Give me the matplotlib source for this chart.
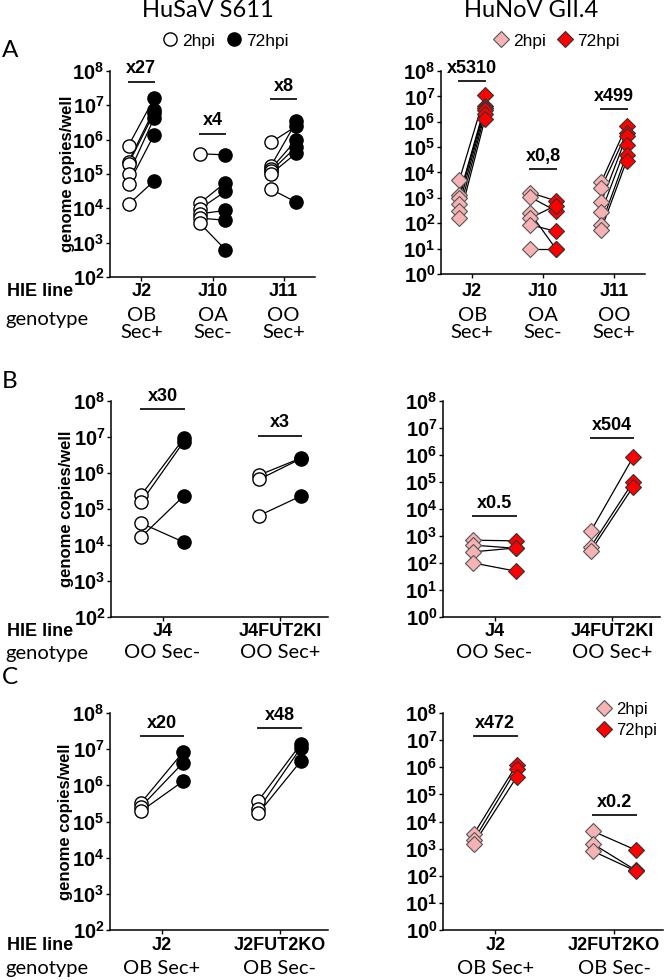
import math
import matplotlib
matplotlib.use('Agg')
import matplotlib.pyplot as plt
from matplotlib.ticker import FixedLocator, FuncFormatter, NullLocator
from matplotlib.lines import Line2D

plt.rcParams['font.family'] = 'Liberation Sans'
plt.rcParams['mathtext.fontset'] = 'custom'
plt.rcParams['mathtext.bf'] = 'Liberation Sans:bold'
plt.rcParams['mathtext.rm'] = 'Liberation Sans'

# Estilos
PINK = '#F7B3B3'
RED = '#FF0000'
SOFT_FONT = 'Lato'
DX = 0.18

# --- datos (copias genómicas / pocillo) ---
# Panel A
A_cats = ['J2', 'J10', 'J11']
A_geno = ['OB\nSec+', 'OA\nSec-', 'OO\nSec+']
A_sav_2hpi = [[6.7e5, 2.3e5, 2.0e5, 1.0e5, 5.1e4, 1.3e4],
              [3.9e5, 1.4e4, 9.6e3, 6.9e3, 5.2e3, 3.7e3],
              [8.3e5, 1.7e5, 1.4e5, 1.2e5, 1.0e5, 3.6e4]]
A_sav_72hpi = [[1.6e7, 7.4e6, 6.0e6, 4.2e6, 1.4e6, 6.3e4],
               [3.6e5, 5.6e4, 3.1e4, 8.7e3, 4.5e3, 6.3e2],
               [2.5e6, 3.4e6, 1.0e6, 6.3e5, 4.1e5, 1.5e4]]
A_sav_fold = ['x27', 'x4', 'x8']
A_sav_bar = [4.9e7, 1.5e6, 1.5e7]
A_nov_2hpi = [[5.1e3, 1.3e3, 1.0e3, 5.9e2, 3.1e2, 1.6e2],
              [1.6e3, 1.07e3, 2.5e2, 1.6e2, 8.7e1, 1.0e1],
              [4.1e3, 2.4e3, 6.6e2, 2.7e2, 8.7e1, 5.5e1]]
A_nov_72hpi = [[1.15e7, 4.2e6, 3.5e6, 2.8e6, 2.0e6, 1.27e6],
               [7.7e2, 3.1e2, 1.0e1, 5.0e2, 4.8e1, 1.0e1],
               [6.9e5, 3.6e5, 2.7e5, 1.2e5, 5.0e4, 2.9e4]]
A_nov_fold = ['x5310', 'x0,8', 'x499']
A_nov_bar = [4.0e7, 1.4e4, 3.1e6]

# Panel B
B_cats = ['J4', 'J4FUT2KI']
B_geno = ['OO Sec-', 'OO Sec+']
B_sav_2hpi = [[2.5e5, 1.6e5, 4.0e4, 1.7e4], [8.7e5, 6.6e5, 6.5e4]]
B_sav_72hpi = [[9.1e6, 7.4e6, 1.2e4, 2.3e5], [2.6e6, 2.5e6, 2.3e5]]
B_sav_fold = ['x30', 'x3']
B_sav_bar = [5.9e7, 1.1e7]
B_nov_2hpi = [[7.0e2, 4.6e2, 2.6e2, 1.0e2], [1.5e3, 4.0e2, 2.8e2]]
B_nov_72hpi = [[6.6e2, 3.5e2, 3.6e2, 5.0e1], [8.2e5, 1.0e5, 6.6e4]]
B_nov_fold = ['x0.5', 'x504']
B_nov_bar = [5.5e3, 4.1e6]

# Panel C
C_cats = ['J2', 'J2FUT2KO']
C_geno = ['OB Sec+', 'OB Sec-']
C_sav_2hpi = [[3.2e5, 2.5e5, 1.9e5], [3.8e5, 2.2e5, 1.7e5]]
C_sav_72hpi = [[8.3e6, 4.2e6, 1.3e6], [1.4e7, 1.1e7, 4.7e6]]
C_sav_fold = ['x20', 'x48']
C_sav_bar = [2.3e7, 3.9e7]
C_nov_2hpi = [[3.5e3, 2.1e3, 1.5e3], [4.4e3, 1.5e3, 8.1e2]]
C_nov_72hpi = [[1.26e6, 8.7e5, 4.4e5], [8.9e2, 1.6e2, 1.5e2]]
C_nov_fold = ['x472', 'x0.2']
C_nov_bar = [1.4e7, 1.7e4]

W, H = 666, 980
fig = plt.figure(figsize=(W / 100, H / 100), dpi=100)


def add_axes_px(x0, x1, ytop, ybot):
    return fig.add_axes([x0 / W, 1 - ybot / H, (x1 - x0) / W, (ybot - ytop) / H])


def pow_fmt(v, pos):
    return r'$\mathbf{10^{%d}}$' % int(round(math.log10(v)))


def draw_panel(ax, cats, geno, pre, post, folds, bars, virus, ymin_exp,
               geno_off, hie_off=15, left=False):
    n = len(cats)
    for i in range(n):
        for a, b in zip(pre[i], post[i]):
            ax.plot([i - DX, i + DX], [a, b], color='black', lw=0.9, zorder=1)
        xs0 = [i - DX] * len(pre[i])
        xs1 = [i + DX] * len(post[i])
        if virus == 'sav':
            ax.plot(xs0, pre[i], 'o', ms=9.5, mfc='white', mec='black', mew=1.0, zorder=3, ls='none')
            ax.plot(xs1, post[i], 'o', ms=9.5, mfc='black', mec='black', mew=1.0, zorder=3, ls='none')
        else:
            ax.plot(xs0, pre[i], 'D', ms=8.5, mfc=PINK, mec='#555555', mew=0.8, zorder=3, ls='none')
            ax.plot(xs1, post[i], 'D', ms=8.5, mfc=RED, mec='#333333', mew=0.8, zorder=3, ls='none')
        # barra + factor de cambio
        ax.plot([i - DX, i + DX], [bars[i], bars[i]], color='#222222', lw=1.4, clip_on=False)
        ax.annotate(folds[i], xy=(i, bars[i]), xytext=(0, 3), textcoords='offset points',
                    ha='center', va='bottom', fontsize=13, fontweight='bold', annotation_clip=False)

    ax.set_yscale('log')
    ax.set_ylim(10 ** ymin_exp, 1e8)
    ax.set_xlim(-0.44, n - 1 + (0.44 if n == 3 else 0.41))
    ax.yaxis.set_major_locator(FixedLocator([10.0 ** e for e in range(ymin_exp, 9)]))
    ax.yaxis.set_minor_locator(NullLocator())
    ax.yaxis.set_major_formatter(FuncFormatter(pow_fmt))
    ax.set_xticks(range(n))
    ax.set_xticklabels([])
    ax.tick_params(axis='y', length=3, width=1, pad=1, labelsize=14.5)
    ax.tick_params(axis='x', length=3, width=1)
    for s in ['top', 'right']:
        ax.spines[s].set_visible(False)
    for s in ['left', 'bottom']:
        ax.spines[s].set_linewidth(1.1)

    tr = ax.get_xaxis_transform()
    for i in range(n):
        ax.annotate(cats[i], xy=(i, 0), xycoords=tr, xytext=(0, -hie_off * 0.72),
                    textcoords='offset points', ha='center', va='center',
                    fontsize=13, fontweight='bold')
        ax.annotate(geno[i], xy=(i, 0), xycoords=tr, xytext=(0, -geno_off * 0.72),
                    textcoords='offset points', ha='center', va='center',
                    fontsize=14.5, family=SOFT_FONT, linespacing=1.0)
    if left:
        ax.set_ylabel('genome copies/well', fontsize=12, fontweight='bold')
        ax.yaxis.set_label_coords(-0.17, 0.5)


# Panel A
axA1 = add_axes_px(110, 315, 71, 277)
draw_panel(axA1, A_cats, A_geno, A_sav_2hpi, A_sav_72hpi, A_sav_fold, A_sav_bar, 'sav', 2, 47, left=True)
axA2 = add_axes_px(441, 645, 71, 274)
draw_panel(axA2, A_cats, A_geno, A_nov_2hpi, A_nov_72hpi, A_nov_fold, A_nov_bar, 'nov', 0, 50, hie_off=18)

# Panel B
axB1 = add_axes_px(111, 328, 401, 617)
draw_panel(axB1, B_cats, B_geno, B_sav_2hpi, B_sav_72hpi, B_sav_fold, B_sav_bar, 'sav', 2, 36, hie_off=15, left=True)
axB2 = add_axes_px(443, 660, 401, 617)
draw_panel(axB2, B_cats, B_geno, B_nov_2hpi, B_nov_72hpi, B_nov_fold, B_nov_bar, 'nov', 0, 36, hie_off=15)

# Panel C
axC1 = add_axes_px(110, 328, 713, 930)
draw_panel(axC1, C_cats, C_geno, C_sav_2hpi, C_sav_72hpi, C_sav_fold, C_sav_bar, 'sav', 2, 38, left=True)
axC2 = add_axes_px(443, 663, 713, 930)
draw_panel(axC2, C_cats, C_geno, C_nov_2hpi, C_nov_72hpi, C_nov_fold, C_nov_bar, 'nov', 0, 38)

# "HIE line" / "genotype" a la izquierda
for y_hie, y_gen in [(292, 320), (632, 653), (945, 968)]:
    fig.text(7 / W, 1 - y_hie / H, 'HIE line', ha='left', va='center', fontsize=13, fontweight='bold')
    fig.text(5 / W, 1 - y_gen / H, 'genotype', ha='left', va='center', fontsize=14.5, family=SOFT_FONT)

# títulos de columna y letras de panel
fig.text(208 / W, 1 - 17 / H, 'HuSaV S611', ha='center', va='baseline', fontsize=17, family=SOFT_FONT)
fig.text(531 / W, 1 - 17 / H, 'HuNoV GII.4', ha='center', va='baseline', fontsize=17, family=SOFT_FONT)
for letter, yb in [('A', 57), ('B', 388), ('C', 684)]:
    fig.text(2 / W, 1 - yb / H, letter, ha='left', va='baseline', fontsize=17.5, family=SOFT_FONT)

# leyendas
sav_handles = [Line2D([], [], marker='o', ls='none', ms=9.5, mfc='white', mec='black', label='2hpi'),
               Line2D([], [], marker='o', ls='none', ms=9.5, mfc='black', mec='black', label='72hpi')]
nov_handles = [Line2D([], [], marker='D', ls='none', ms=8.5, mfc=PINK, mec='#555555', mew=0.8, label='2hpi'),
               Line2D([], [], marker='D', ls='none', ms=8.5, mfc=RED, mec='#333333', mew=0.8, label='72hpi')]
kw = dict(frameon=False, ncol=2, handlelength=0.8, handletextpad=0.3, columnspacing=0.7,
          fontsize=12.5, loc='center', bbox_transform=fig.transFigure)
fig.legend(handles=sav_handles, bbox_to_anchor=(226 / W, 1 - 41 / H), **kw)
fig.legend(handles=nov_handles, bbox_to_anchor=(557 / W, 1 - 41 / H), **kw)
axC2.legend(handles=nov_handles, frameon=False, handlelength=0.8, handletextpad=0.3,
            labelspacing=0.35, fontsize=12, loc='center',
            bbox_to_anchor=(627 / W, 1 - 720 / H), bbox_transform=fig.transFigure)

plt.savefig('out.png', dpi=100)
plt.close()
